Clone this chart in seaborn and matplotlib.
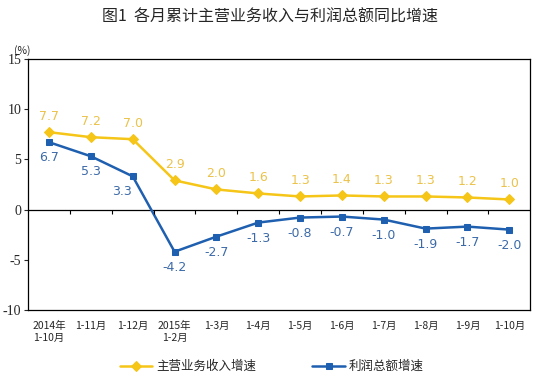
import numpy as np
import pandas as pd
import matplotlib
matplotlib.use("Agg")
import matplotlib.pyplot as plt
import seaborn as sns

# --- data ---
periods = ["2014年\n1-10月", "1-11月", "1-12月", "2015年\n1-2月", "1-3月", "1-4月",
           "1-5月", "1-6月", "1-7月", "1-8月", "1-9月", "1-10月"]
revenue_growth = [7.7, 7.2, 7.0, 2.9, 2.0, 1.6, 1.3, 1.4, 1.3, 1.3, 1.2, 1.0]
profit_growth = [6.7, 5.3, 3.3, -4.2, -2.7, -1.3, -0.8, -0.7, -1.0, -1.9, -1.7, -2.0]
revenue_name = "主营业务收入增速"
profit_name = "利润总额增速"

sns.set_style("white")
plt.rcParams['font.family'] = ['Noto Sans CJK SC', 'DejaVu Sans']

gold = "#F5C518"
blue = "#1F5FB0"

df = pd.DataFrame({"period": periods, "rev": revenue_growth, "prof": profit_growth})

fig = plt.figure(figsize=(5.41, 3.87), dpi=100)
ax = fig.add_axes([0.052, 0.199, 0.928, 0.649])

sns.lineplot(data=df, x="period", y="rev", ax=ax, color=gold, lw=1.8,
             marker="D", markersize=5, markeredgecolor=gold, label=revenue_name, sort=False)
sns.lineplot(data=df, x="period", y="prof", ax=ax, color=blue, lw=1.8,
             marker="s", markersize=4.5, markeredgecolor=blue, label=profit_name, sort=False)

# value labels
for i, v in enumerate(revenue_growth):
    ax.text(i, v + 0.9, f"{v:.1f}", ha="center", va="bottom", fontsize=9,
            color="#EBC24A", family="DejaVu Sans")
for i, v in enumerate(profit_growth):
    dx = -0.25 if i == 2 else 0
    ax.text(i + dx, v - 0.9, f"{v:.1f}", ha="center", va="top", fontsize=9,
            color="#3C6AA8", family="DejaVu Sans")

# zero line with small ticks between categories
ax.axhline(0, color="black", lw=0.9, zorder=1)
ax.vlines(np.arange(len(periods) - 1) + 0.5, -0.4, 0, color="black", lw=0.8)

ax.set_xlim(-0.5, len(periods) - 0.5)
ax.set_ylim(-10, 15)
ax.set_yticks([-10, -5, 0, 5, 10, 15])
ax.set_yticklabels(["-10", "-5", "0", "5", "10", "15"], family="Liberation Serif", fontsize=10)
ax.tick_params(axis="y", length=3, width=0.8, left=True, pad=2)
ax.tick_params(axis="x", length=0, labelsize=7.5, pad=8)
for lbl in ax.get_xticklabels():
    lbl.set_verticalalignment("top")
ax.set_xlabel("")
ax.set_ylabel("")

for s in ax.spines.values():
    s.set_color("black")
    s.set_linewidth(0.9)

ax.text(-0.028, 1.01, "(%)", transform=ax.transAxes, fontsize=7.5, ha="left", va="bottom")

fig.text(0.5, 0.955, "图1  各月累计主营业务收入与利润总额同比增速", ha="center", va="center",
         fontsize=11.5)

ax.legend(loc="upper center", bbox_to_anchor=(0.485, -0.155), ncol=2, frameon=False,
          fontsize=9, columnspacing=4.5, handlelength=2.6, handletextpad=0.3)

fig.savefig("out.png", dpi=100)
